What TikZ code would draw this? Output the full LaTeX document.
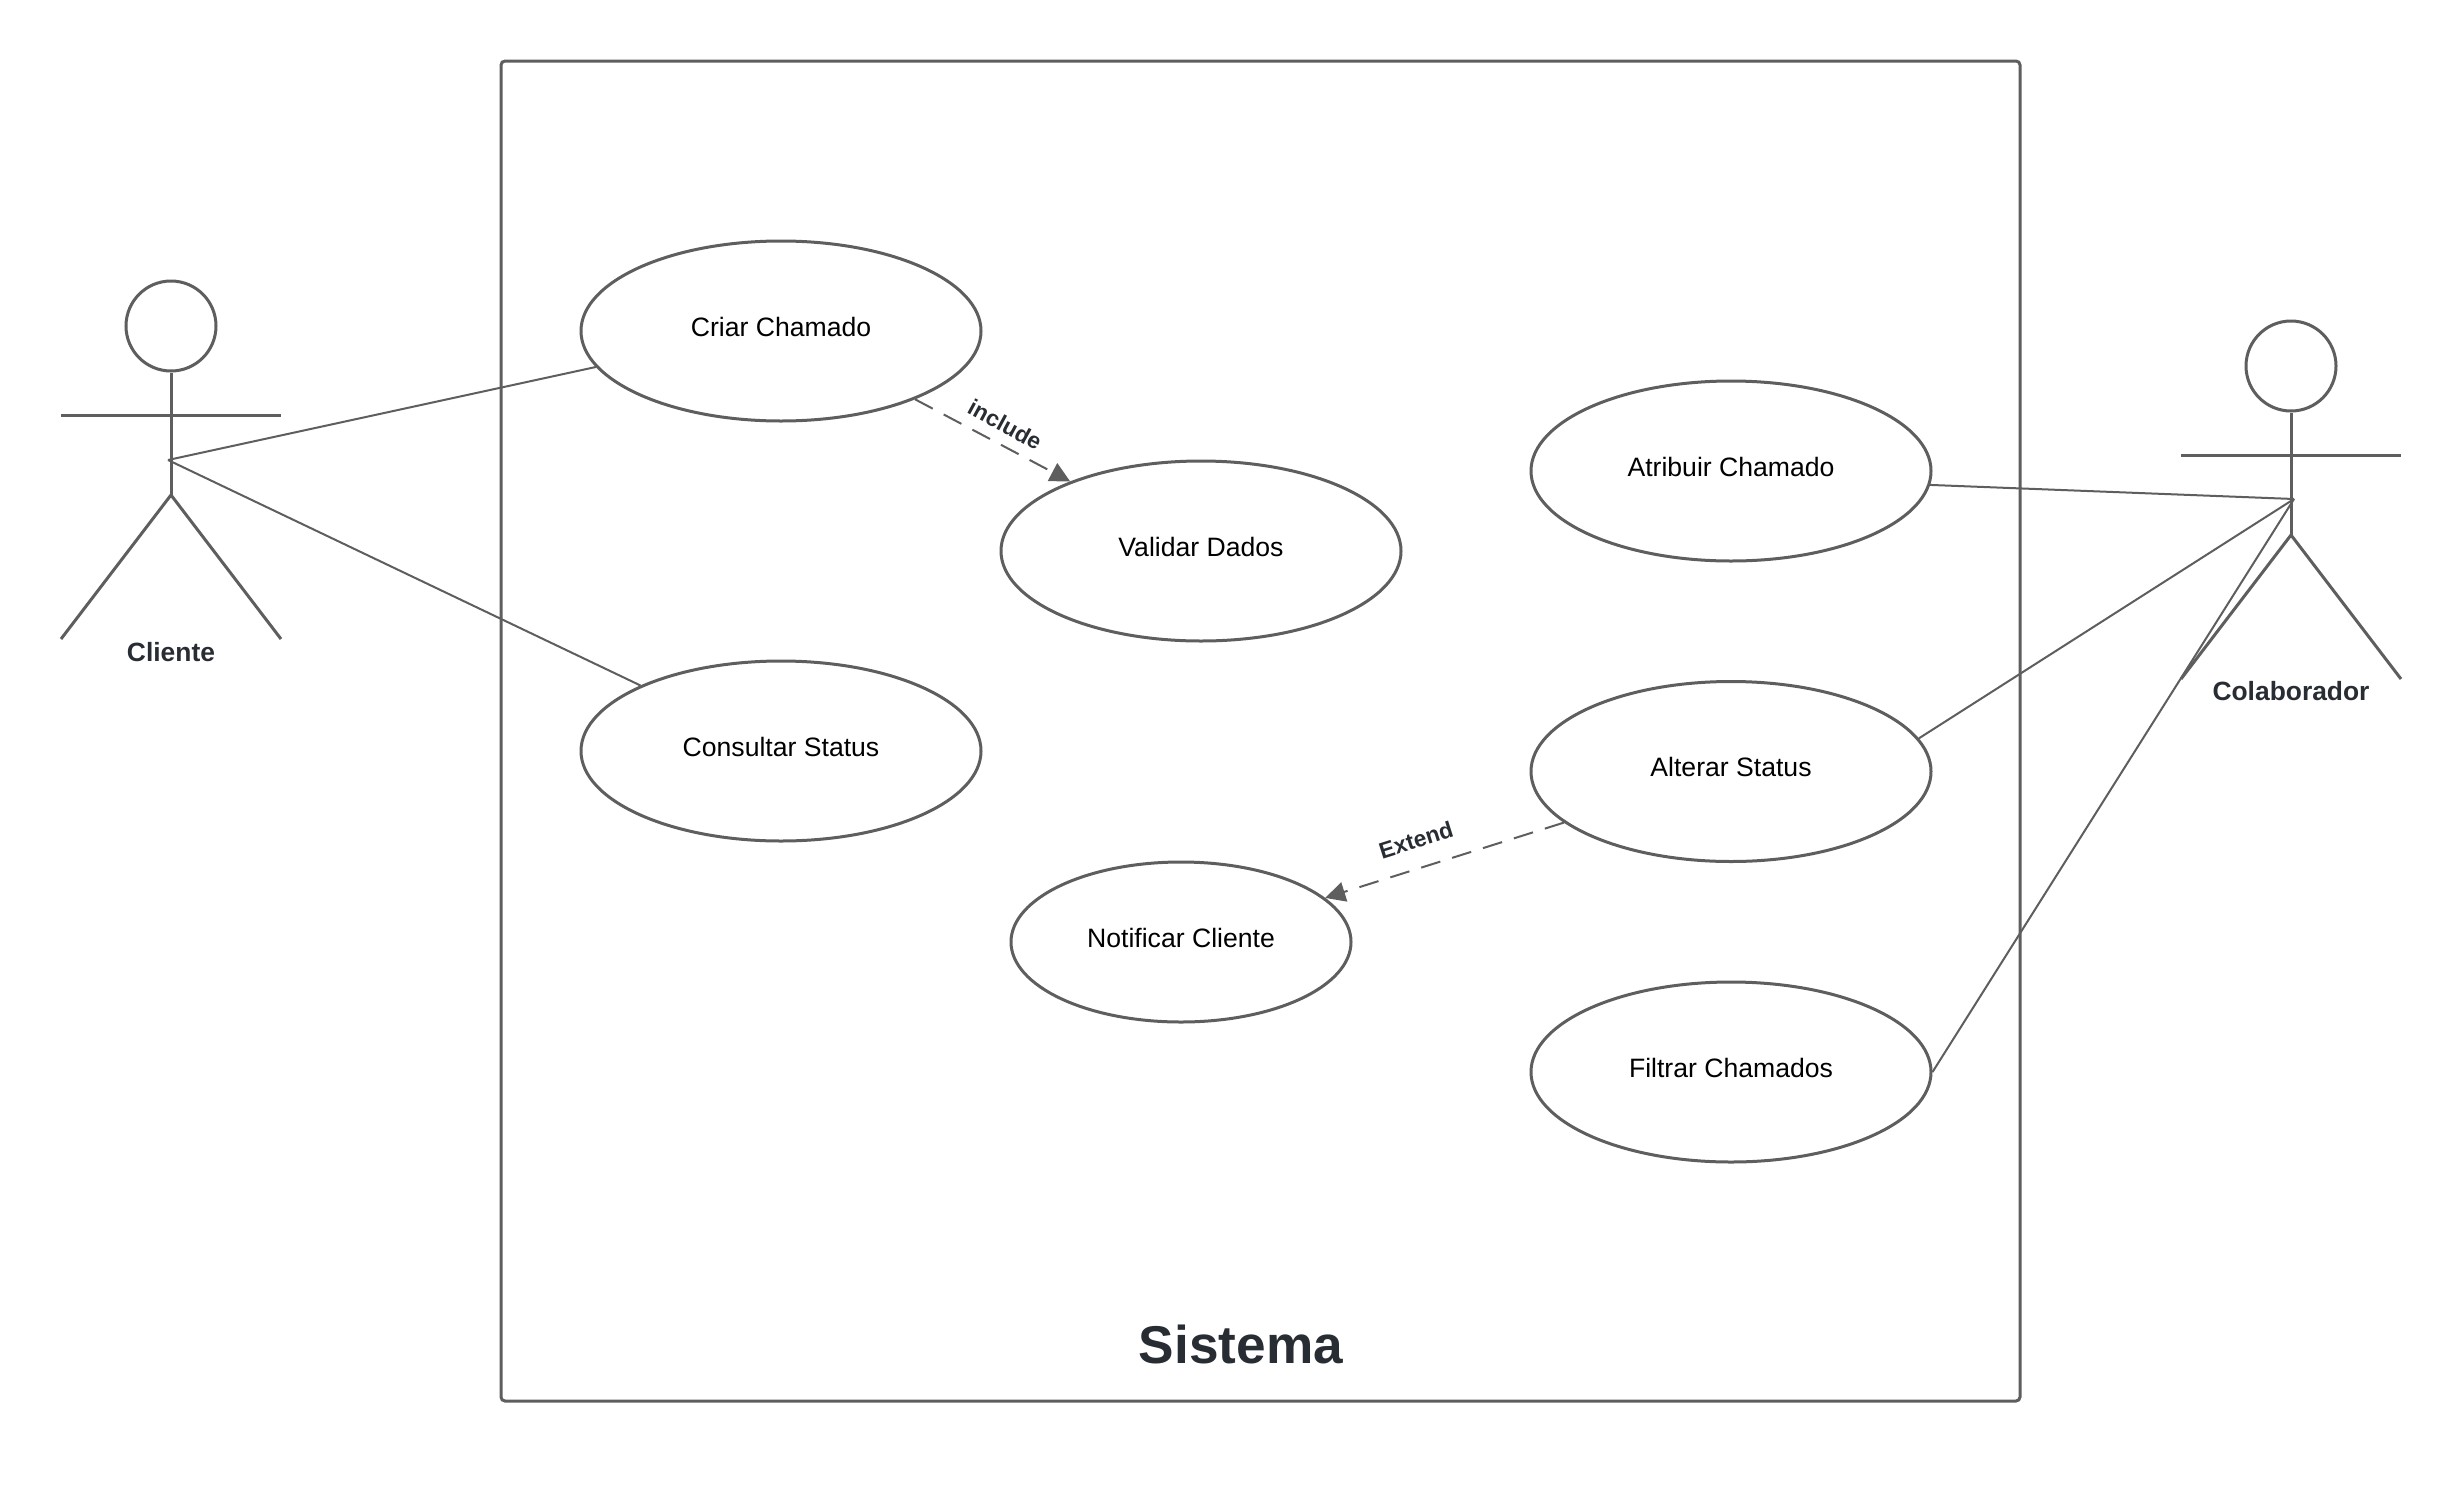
\documentclass[tikz,border=0pt]{standalone}
\usepackage{fontspec}
\setmainfont{Liberation Sans}
\usetikzlibrary{shapes.geometric,arrows.meta}
\definecolor{linegray}{HTML}{5E5E5E}
\definecolor{inkdark}{HTML}{282C33}
\tikzset{
  usecase/.style={ellipse,draw=linegray,line width=1.5pt,inner sep=0pt,
    minimum width=400\pxu,minimum height=180\pxu,
    font=\fontsize{13.3pt}{15pt}\selectfont,text=black,text height=10pt,text depth=5pt},
  smallcase/.style={usecase,minimum width=340\pxu,minimum height=160\pxu},
  limb/.style={draw=linegray,line width=1.5pt},
  head/.style={circle,draw=linegray,line width=1.5pt,minimum size=90\pxu,inner sep=0pt},
  assoc/.style={draw=linegray,line width=1pt},
  relation/.style={draw=linegray,line width=1pt,dash pattern=on 10pt off 6.2pt,
    -{Triangle[length=10pt,width=10pt]}},
  actorname/.style={font=\fontsize{13.2pt}{15pt}\selectfont\bfseries,text=inkdark},
  rellabel/.style={font=\fontsize{11.4pt}{13pt}\selectfont\bfseries,text=inkdark},
  systemname/.style={font=\fontsize{26.6pt}{30pt}\selectfont\bfseries,text=inkdark},
}
\newlength{\pxu}
\setlength{\pxu}{0.5pt}
\begin{document}
\begin{tikzpicture}[x=0.5pt,y=-0.5pt]
\useasboundingbox (0,0) rectangle (2463,1505);
% system boundary
\draw[limb,rounded corners=2pt] (501,61) rectangle (2020,1401);
\node[systemname] (sistema) at (1241,1344) {Sistema};
% use cases
\node[usecase] (criar) at (781,331) {Criar Chamado};
\node[usecase] (validar) at (1201,551) {Validar Dados};
\node[usecase] (consultar) at (781,751) {Consultar Status};
\node[usecase] (atribuir) at (1731,471) {Atribuir Chamado};
\node[usecase] (alterar) at (1731,771.5) {Alterar Status};
\node[usecase] (filtrar) at (1731,1072) {Filtrar Chamados};
\node[smallcase] (notificar) at (1181,942) {Notificar Cliente};
% actor Cliente
\node[head] (chead) at (171,326) {};
\coordinate (chip) at (171,495);
\coordinate (clarm) at (61,415);
\coordinate (crarm) at (281,415);
\coordinate (clleg) at (61,639);
\coordinate (crleg) at (281,639);
\coordinate (cport) at (168,460);
\draw[limb] (chead.south) -- (chip);
\draw[limb] (clarm) -- (crarm);
\draw[limb] (clleg) -- (chip) -- (crleg);
\node[actorname] (cliente) at (171,652) {Cliente};
% actor Colaborador
\node[head] (ohead) at (2291,366) {};
\coordinate (ohip) at (2291,535);
\coordinate (olarm) at (2181,455);
\coordinate (orarm) at (2401,455);
\coordinate (olleg) at (2181,679);
\coordinate (orleg) at (2401,679);
\coordinate (oport) at (2294,499);
\draw[limb] (ohead.south) -- (ohip);
\draw[limb] (olarm) -- (orarm);
\draw[limb] (olleg) -- (ohip) -- (orleg);
\node[actorname] (colaborador) at (2291,691.5) {Colaborador};
% associations
\draw[assoc] (cport) -- (criar.191);
\draw[assoc] (cport) -- (consultar.155);
\draw[assoc] (atribuir.-4.3) -- (oport);
\draw[assoc] (alterar.10) -- (oport);
\draw[assoc] (filtrar.east) -- (oport);
% relations
\draw[relation] (criar.-27) -- (validar.152.6);
\draw[relation] (alterar.197.3) -- (notificar.17.2);
\node[rellabel,rotate=-28.5] (includelabel) at (1005,424.5) {include};
\node[rellabel,rotate=17.5] (extendlabel) at (1416,840) {Extend};
\end{tikzpicture}
\end{document}
